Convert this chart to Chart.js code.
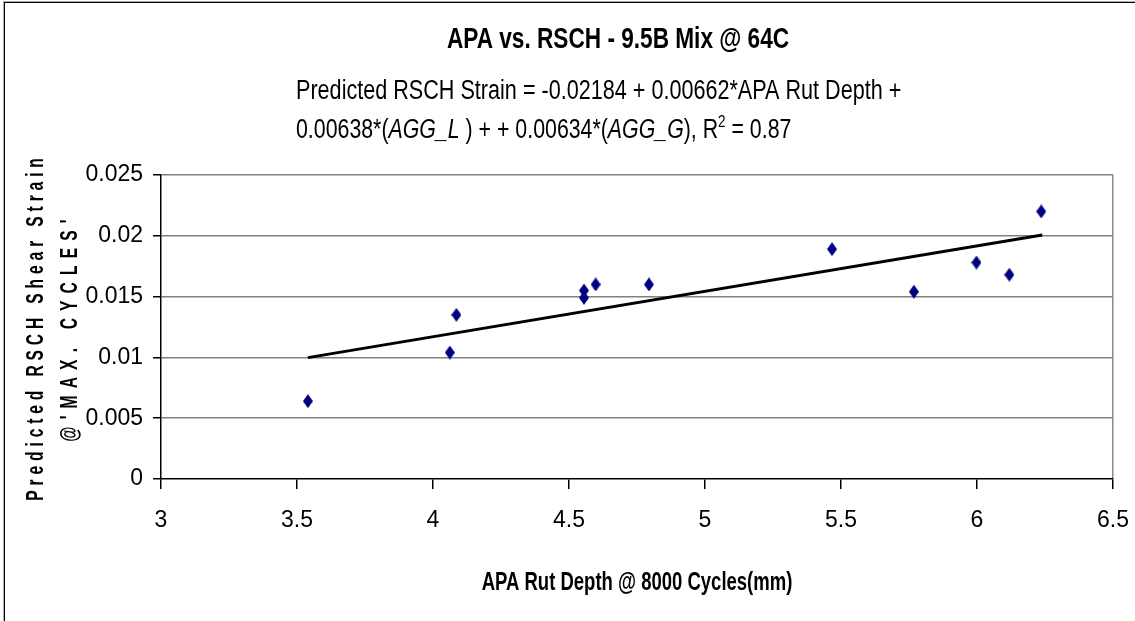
<!DOCTYPE html>
<html>
<head>
<meta charset="utf-8">
<script src="https://cdn.jsdelivr.net/npm/chart.js@4.4.0/dist/chart.umd.min.js"></script>
<style>
  body { margin: 0; background: #fff; }
  #wrap { position: relative; width: 1135px; height: 621px; }
</style>
</head>
<body>
<div id="wrap"><canvas id="graficoApa"></canvas></div>
<script>
// datos
var apaRut = [3.54, 4.062, 4.086, 4.555, 4.555, 4.598, 4.794, 5.467, 5.768, 5.998, 6.119, 6.236];
var rschStrain = [0.0064, 0.0104, 0.0135, 0.0155, 0.0149, 0.016, 0.016, 0.0189, 0.0154, 0.0178, 0.0168, 0.022];
var trendX = [3.54, 6.24];
var trendY = [0.00998, 0.02007];
var xTicks = [3, 3.5, 4, 4.5, 5, 5.5, 6, 6.5];
var yTicks = [0, 0.005, 0.01, 0.015, 0.02, 0.025];

var titulo = "APA vs. RSCH - 9.5B Mix @ 64C";
var ecuacion1 = "Predicted RSCH Strain = -0.02184 + 0.00662*APA Rut Depth +";
var tituloX = "APA Rut Depth @ 8000 Cycles(mm)";
var tituloY1 = "Predicted RSCH Shear Strain";
var tituloY2 = "@'MAX. CYCLES'";

var fuente = "'Liberation Sans', Arial, sans-serif";

function hacerRombo(w, h, color) {
  var c = document.createElement("canvas");
  c.width = w;
  c.height = h;
  var g = c.getContext("2d");
  g.fillStyle = color;
  g.beginPath();
  g.moveTo(w / 2, 0);
  g.lineTo(w, h / 2);
  g.lineTo(w / 2, h);
  g.lineTo(0, h / 2);
  g.closePath();
  g.fill();
  return c;
}

// texto comprimido en horizontal, con partes en cursiva / superindice
function dibujarTexto(ctx, partes, x, y, sx, align) {
  ctx.save();
  ctx.translate(x, y);
  ctx.scale(sx, 1);
  ctx.textBaseline = "alphabetic";
  ctx.textAlign = "left";
  var total = 0;
  partes.forEach(function (p) {
    ctx.font = p.font;
    total += ctx.measureText(p.t).width;
  });
  var cx = align === "center" ? -total / 2 : 0;
  partes.forEach(function (p) {
    ctx.font = p.font;
    ctx.fillText(p.t, cx, p.dy || 0);
    cx += ctx.measureText(p.t).width;
  });
  ctx.restore();
}

function dibujarVertical(ctx, texto, x, y, sx, espacio, font) {
  ctx.save();
  ctx.translate(x, y);
  ctx.rotate(-Math.PI / 2);
  ctx.scale(sx, 1);
  ctx.font = font;
  ctx.letterSpacing = espacio + "px";
  ctx.textAlign = "center";
  ctx.textBaseline = "middle";
  ctx.fillText(texto, 0, 0);
  ctx.restore();
}

var textosPlugin = {
  id: "textos",
  beforeDraw: function (chart) {
    var ctx = chart.ctx;
    ctx.save();
    ctx.fillStyle = "#fff";
    ctx.fillRect(0, 0, chart.width, chart.height);
    ctx.strokeStyle = "#b0b0b0";
    ctx.lineWidth = 1;
    ctx.strokeRect(3.5, 1.5, 1300, 1000);
    ctx.strokeStyle = "#000";
    ctx.strokeRect(4.5, 2.5, 1300, 1000);
    ctx.restore();
  },
  afterDraw: function (chart) {
    var ctx = chart.ctx;
    var area = chart.chartArea;
    ctx.save();
    ctx.fillStyle = "#000";
    var reg = "27px " + fuente;
    var ita = "italic 27px " + fuente;
    dibujarTexto(ctx, [{ t: titulo, font: "bold 29px " + fuente }], 618, 48, 0.78, "center");
    dibujarTexto(ctx, [{ t: ecuacion1, font: reg }], 296, 99, 0.8, "left");
    dibujarTexto(ctx, [
      { t: "0.00638*(", font: reg },
      { t: "AGG_L", font: ita },
      { t: " ) + + 0.00634*(", font: reg },
      { t: "AGG_G", font: ita },
      { t: "), R", font: reg },
      { t: "2", font: "17px " + fuente, dy: -11 },
      { t: " = 0.87", font: reg }
    ], 296, 138, 0.79, "left");
    dibujarTexto(ctx, [{ t: tituloX, font: "bold 25px " + fuente }], (area.left + area.right) / 2, 590, 0.74, "center");
    var cy = (area.top + area.bottom) / 2;
    dibujarVertical(ctx, tituloY1, 36, cy, 0.65, 7.5, "bold 24px " + fuente);
    dibujarVertical(ctx, tituloY2, 70, cy, 0.65, 11, "bold 24px " + fuente);
    ctx.restore();
  }
};

function formatoTick(v) {
  return String(+Number(v).toFixed(3));
}

var puntos = apaRut.map(function (x, i) {
  return { x: x, y: rschStrain[i] };
});
var linea = trendX.map(function (x, i) {
  return { x: x, y: trendY[i] };
});

var ctx = document.getElementById("graficoApa");
window.graficoApa = new Chart(ctx, {
  type: "scatter",
  data: {
    datasets: [
      {
        label: "Predicted RSCH Strain",
        data: puntos,
        pointStyle: hacerRombo(10, 14, "#000080"),
        pointRadius: 7,
        pointHoverRadius: 7,
        backgroundColor: "#000080",
        borderColor: "#000080",
        order: 1
      },
      {
        label: "Linear",
        type: "line",
        data: linea,
        borderColor: "#000",
        borderWidth: 3,
        pointRadius: 0,
        fill: false,
        order: 2
      }
    ]
  },
  plugins: [textosPlugin],
  options: {
    responsive: true,
    maintainAspectRatio: false,
    animation: false,
    layout: { padding: { top: 175, left: 0, right: 22, bottom: 82 } },
    plugins: {
      legend: { display: false },
      title: { display: false },
      tooltip: { enabled: false }
    },
    scales: {
      x: {
        type: "linear",
        min: 3,
        max: 6.5,
        afterBuildTicks: function (s) {
          s.ticks = xTicks.map(function (v) { return { value: v }; });
        },
        afterFit: function (s) {
          s.height = 60;
          s.paddingLeft = 0;
          s.paddingRight = 0;
        },
        ticks: {
          color: "#000",
          padding: 18,
          maxRotation: 0,
          font: { family: fuente, size: 23 },
          callback: formatoTick
        },
        grid: {
          drawOnChartArea: true,
          color: function (c) {
            return c.tick && c.tick.value === 6.5 ? "#8c8c8c" : "rgba(0,0,0,0)";
          },
          tickColor: "#000",
          tickLength: 10,
          lineWidth: 1.5
        },
        border: { display: true, color: "#000", width: 1.5 }
      },
      y: {
        type: "linear",
        min: 0,
        max: 0.025,
        afterBuildTicks: function (s) {
          s.ticks = yTicks.map(function (v) { return { value: v }; });
        },
        afterFit: function (s) {
          s.width = 161;
          s.paddingTop = 0;
          s.paddingBottom = 0;
        },
        ticks: {
          color: "#000",
          padding: 10,
          font: { family: fuente, size: 23 },
          callback: formatoTick
        },
        grid: {
          color: function (c) {
            return c.tick && c.tick.value === 0 ? "rgba(0,0,0,0)" : "#808080";
          },
          tickColor: "#000",
          tickLength: 8,
          lineWidth: 1.5
        },
        border: { display: true, color: "#000", width: 1.5 }
      }
    }
  }
});
</script>
</body>
</html>
